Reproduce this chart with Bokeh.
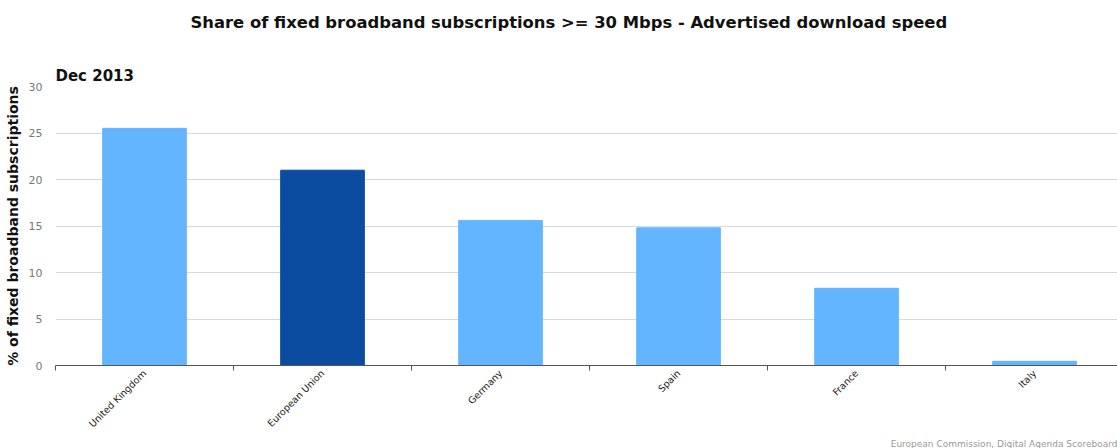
import math
from bokeh.plotting import figure
from bokeh.models import Range1d, FixedTicker, Title, ColumnDataSource
from bokeh.embed import file_html
from bokeh.resources import INLINE

categories = ["United Kingdom", "European Union", "Germany", "Spain", "France", "Italy"]
values = [25.5, 21.0, 15.6, 14.8, 8.3, 0.45]
colors = ["#63b5ff", "#0c4ca0", "#63b5ff", "#63b5ff", "#63b5ff", "#63b5ff"]
y_ticks = [0, 5, 10, 15, 20, 25, 30]

FONT = "DejaVu Sans"

xs = [i + 0.5 for i in range(len(categories))]
src = ColumnDataSource(dict(x=xs, top=values, color=colors))

p = figure(width=1117, height=448, output_backend="svg", toolbar_location=None,
           x_range=Range1d(0, 5.966), y_range=Range1d(0, 30),
           min_border_left=55, min_border_right=0, min_border_top=86, min_border_bottom=83)
p.outline_line_color = None
p.background_fill_color = "white"
p.border_fill_color = "white"

p.vbar(x="x", top="top", width=0.47, color="color", source=src)

# x axis
p.xaxis.ticker = FixedTicker(ticks=xs, minor_ticks=list(range(len(categories) + 1)))
p.xaxis.major_label_overrides = {x: c for x, c in zip(xs, categories)}
p.xaxis.major_label_orientation = math.pi / 4
p.xaxis.major_label_text_font = FONT
p.xaxis.major_label_text_font_size = "9.5px"
p.xaxis.major_label_text_color = "#222222"
p.xaxis.major_label_standoff = 1
p.xaxis.major_tick_line_color = None
p.xaxis.major_tick_out = 0
p.xaxis.major_tick_in = 0
p.xaxis.minor_tick_line_color = "#555555"
p.xaxis.minor_tick_out = 5
p.xaxis.minor_tick_in = 0
p.xaxis.axis_line_color = "#555555"
p.xgrid.grid_line_color = None

# y axis
p.yaxis.ticker = FixedTicker(ticks=y_ticks)
p.yaxis.axis_line_color = None
p.yaxis.major_tick_line_color = None
p.yaxis.minor_tick_line_color = None
p.yaxis.major_label_text_font = FONT
p.yaxis.major_label_text_font_size = "11px"
p.yaxis.major_label_text_color = "#777777"
p.yaxis.major_label_standoff = 7
p.yaxis.axis_label = "% of fixed broadband subscriptions"
p.yaxis.axis_label_text_font = FONT
p.yaxis.axis_label_text_font_style = "bold"
p.yaxis.axis_label_text_font_size = "14px"
p.yaxis.axis_label_text_color = "#111111"
p.yaxis.axis_label_standoff = 5
p.ygrid.grid_line_color = "#d8d8d8"

# titles above the plot: nearest first
p.add_layout(Title(text="Dec 2013", align="left", text_font=FONT, text_font_style="bold",
                   text_font_size="15px", text_color="#111111", standoff=4), "above")
p.add_layout(Title(text=" ", align="left", text_font=FONT, text_font_size="10px",
                   standoff=8), "above")
p.add_layout(Title(text="Share of fixed broadband subscriptions >= 30 Mbps - Advertised download speed",
                   align="left", offset=135, text_font=FONT, text_font_style="bold",
                   text_font_size="16.4px", text_color="#111111", standoff=20), "above")
p.add_layout(Title(text="European Commission, Digital Agenda Scoreboard", align="right",
                   text_font=FONT, text_font_style="normal", text_font_size="9px",
                   text_color="#999999", standoff=0), "below")

open("out.html", "w").write(file_html(p, INLINE))
